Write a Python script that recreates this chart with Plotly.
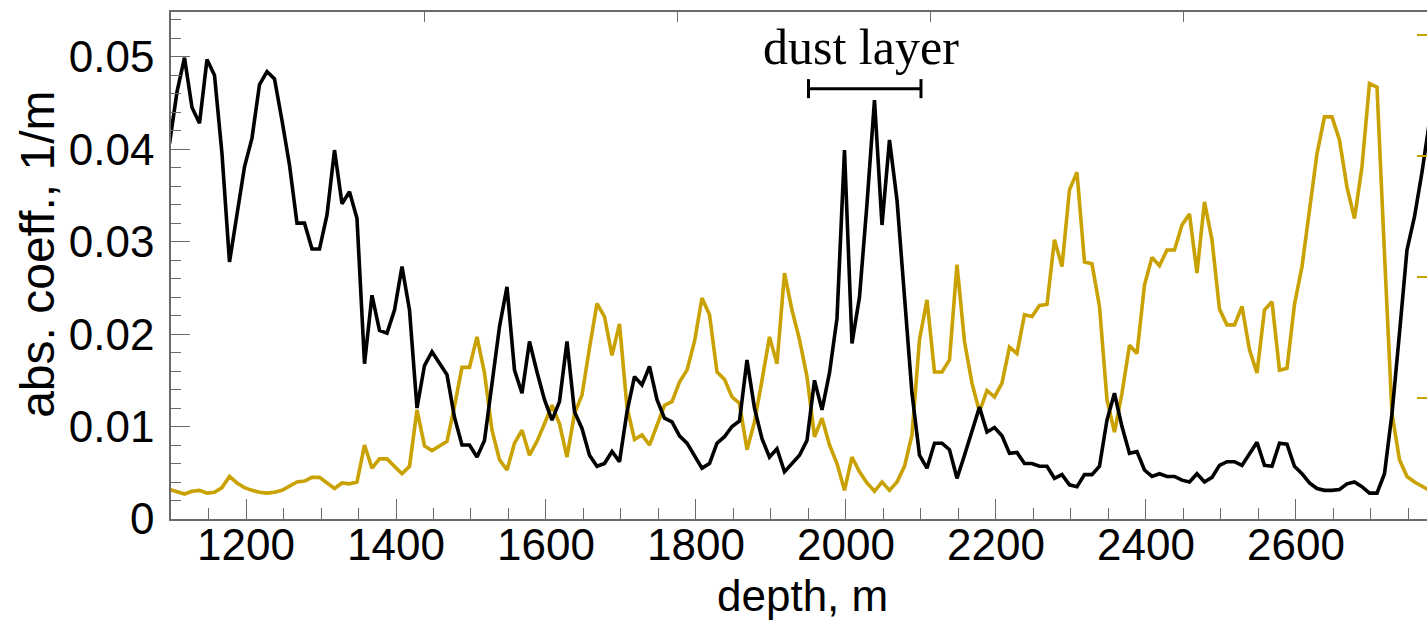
import plotly.graph_objects as go

# sampling grid of the profiles (m)
depth = list(range(1098, 2779, 10))

# black curve: absorption coefficient (1/m)
black_coeff = [
    0.0406,
    0.0462, 0.0499, 0.0445, 0.0428, 0.0497, 0.0480, 0.0395, 0.0278, 0.0330, 0.0381,
    0.0412, 0.0470, 0.0484, 0.0476, 0.0431, 0.0383, 0.0320, 0.0320, 0.0292, 0.0292,
    0.0329, 0.0399, 0.0341, 0.0354, 0.0325, 0.0168, 0.0242, 0.0204, 0.0201, 0.0226,
    0.0273, 0.0226, 0.0120, 0.0166, 0.0181, 0.0168, 0.0156, 0.0110, 0.0080, 0.0080,
    0.0067, 0.0085, 0.0143, 0.0208, 0.0251, 0.0161, 0.0136, 0.0192, 0.0159, 0.0129,
    0.0107, 0.0127, 0.0192, 0.0116, 0.0098, 0.0069, 0.0057, 0.0060, 0.0073, 0.0062,
    0.0116, 0.0154, 0.0145, 0.0165, 0.0129, 0.0109, 0.0105, 0.0090, 0.0082, 0.0068,
    0.0055, 0.0060, 0.0082, 0.0089, 0.0100, 0.0106, 0.0172, 0.0120, 0.0087, 0.0067,
    0.0076, 0.0051, 0.0060, 0.0069, 0.0085, 0.0150, 0.0118, 0.0158, 0.0217, 0.0399,
    0.0190, 0.0240, 0.0341, 0.0453, 0.0318, 0.0410, 0.0345, 0.0237, 0.0136, 0.0069,
    0.0055, 0.0082, 0.0082, 0.0075, 0.0044, 0.0069, 0.0094, 0.0121, 0.0094, 0.0099,
    0.0090, 0.0071, 0.0072, 0.0060, 0.0060, 0.0057, 0.0057, 0.0044, 0.0048, 0.0037,
    0.0035, 0.0048, 0.0048, 0.0057, 0.0107, 0.0136, 0.0100, 0.0071, 0.0073, 0.0053,
    0.0046, 0.0049, 0.0046, 0.0046, 0.0042, 0.0040, 0.0049, 0.0040, 0.0045, 0.0058,
    0.0062, 0.0062, 0.0058, 0.0071, 0.0083, 0.0058, 0.0057, 0.0082, 0.0081, 0.0057,
    0.0049, 0.0039, 0.0033, 0.0031, 0.0031, 0.0032, 0.0038, 0.0040, 0.0035, 0.0028,
    0.0028, 0.0049, 0.0114, 0.0201, 0.0291, 0.0327, 0.0375, 0.0430,
]

# gold curve
gold_coeff = [
    0.0032,
    0.0029, 0.0027, 0.0030, 0.0031, 0.0028, 0.0029, 0.0034, 0.0046, 0.0039, 0.0034,
    0.0031, 0.0029, 0.0028, 0.0029, 0.0031, 0.0035, 0.0040, 0.0041, 0.0045, 0.0045,
    0.0039, 0.0033, 0.0039, 0.0038, 0.0040, 0.0080, 0.0055, 0.0065, 0.0065, 0.0057,
    0.0049, 0.0057, 0.0118, 0.0079, 0.0074, 0.0079, 0.0084, 0.0122, 0.0164, 0.0164,
    0.0197, 0.0158, 0.0096, 0.0064, 0.0053, 0.0082, 0.0096, 0.0069, 0.0084, 0.0103,
    0.0123, 0.0103, 0.0067, 0.0114, 0.0134, 0.0185, 0.0233, 0.0219, 0.0177, 0.0211,
    0.0121, 0.0086, 0.0091, 0.0080, 0.0102, 0.0123, 0.0127, 0.0148, 0.0161, 0.0192,
    0.0239, 0.0221, 0.0159, 0.0151, 0.0132, 0.0125, 0.0075, 0.0105, 0.0150, 0.0197,
    0.0168, 0.0266, 0.0226, 0.0194, 0.0154, 0.0089, 0.0109, 0.0080, 0.0060, 0.0031,
    0.0067, 0.0051, 0.0039, 0.0030, 0.0040, 0.0031, 0.0040, 0.0057, 0.0091, 0.0194,
    0.0237, 0.0159, 0.0159, 0.0172, 0.0275, 0.0192, 0.0147, 0.0116, 0.0139, 0.0132,
    0.0147, 0.0186, 0.0179, 0.0221, 0.0219, 0.0231, 0.0232, 0.0302, 0.0273, 0.0356,
    0.0375, 0.0278, 0.0276, 0.0230, 0.0129, 0.0094, 0.0136, 0.0188, 0.0179, 0.0253,
    0.0283, 0.0274, 0.0291, 0.0291, 0.0318, 0.0330, 0.0266, 0.0343, 0.0302, 0.0227,
    0.0210, 0.0210, 0.0230, 0.0183, 0.0158, 0.0226, 0.0235, 0.0161, 0.0163, 0.0232,
    0.0273, 0.0334, 0.0395, 0.0435, 0.0435, 0.0410, 0.0359, 0.0325, 0.0381, 0.0471,
    0.0467, 0.0287, 0.0114, 0.0064, 0.0046, 0.0040, 0.0035, 0.0031,
]

# dust layer marker
dust_label = "dust layer"
dust_start = 1950
dust_end = 2100
dust_level = 0.04655
dust_cap = 0.00103
dust_label_y = 0.05105

x_title = "depth, m"
y_title = "abs. coeff., 1/m"

x_range = [1100, 2774.7]
y_range = [0, 0.05484]

BLACK = "#000000"
GOLD = "#C9A100"
AXIS = "#6a6a6a"
SANS = "Liberation Sans, Arial, sans-serif"
SERIF = "Liberation Serif, Times New Roman, serif"

fig = go.Figure()
fig.add_trace(go.Scatter(x=depth, y=gold_coeff, mode="lines",
                         line=dict(color=GOLD, width=3.6), showlegend=False))
fig.add_trace(go.Scatter(x=depth, y=black_coeff, mode="lines",
                         line=dict(color=BLACK, width=3.6), showlegend=False))
# empty trace to carry the secondary (top / right) axes
fig.add_trace(go.Scatter(x=[], y=[], xaxis="x2", yaxis="y2", showlegend=False))

# bracket
fig.add_shape(type="line", x0=dust_start, x1=dust_end, y0=dust_level, y1=dust_level,
              line=dict(color=BLACK, width=3))
for xe in (dust_start, dust_end):
    fig.add_shape(type="line", x0=xe, x1=xe, y0=dust_level - dust_cap, y1=dust_level + dust_cap,
                  line=dict(color=BLACK, width=3))
fig.add_annotation(x=(dust_start + dust_end) / 2 - 5, y=dust_label_y, text=dust_label,
                   showarrow=False, xanchor="center", yanchor="middle",
                   font=dict(family=SERIF, size=50, color=BLACK))

# axis titles as paper annotations
fig.add_annotation(xref="paper", yref="paper", x=0.5024, y=-0.150, text=x_title,
                   showarrow=False, xanchor="center", yanchor="middle",
                   font=dict(family=SANS, size=44, color=BLACK))
fig.add_annotation(xref="paper", yref="paper", x=-0.1063, y=0.522, text=y_title,
                   textangle=-90, showarrow=False, xanchor="center", yanchor="middle",
                   font=dict(family=SANS, size=48, color=BLACK))

fig.update_layout(
    width=1427, height=622,
    margin=dict(l=171, r=0, t=12, b=103, pad=0, autoexpand=False),
    plot_bgcolor="white", paper_bgcolor="white",
    showlegend=False,
    xaxis=dict(
        range=x_range, tick0=0, dtick=200, automargin=False,
        ticks="inside", ticklen=20, tickwidth=1.3, tickcolor=AXIS,
        minor=dict(dtick=50, ticks="inside", ticklen=11, tickwidth=1.3, tickcolor=AXIS),
        showline=True, linecolor=AXIS, linewidth=1.6, mirror=True,
        showgrid=False, zeroline=False,
        tickfont=dict(family=SANS, size=44, color=BLACK),
        ticklabelstandoff=-14,
    ),
    yaxis=dict(
        range=y_range, tick0=0, dtick=0.01, automargin=False,
        ticks="inside", ticklen=19, tickwidth=1.3, tickcolor=AXIS,
        minor=dict(dtick=0.002, ticks="inside", ticklen=10, tickwidth=1.3, tickcolor=AXIS),
        showline=True, linecolor=AXIS, linewidth=1.6, mirror=False,
        showgrid=False, zeroline=False,
        tickfont=dict(family=SANS, size=44, color=BLACK),
        ticklabelstandoff=6,
    ),
    xaxis2=dict(
        overlaying="x", anchor="y", side="top", automargin=False,
        range=[0, 4.964], dtick=1, ticks="inside", ticklen=10, tickwidth=1.3,
        tickcolor=AXIS, showticklabels=False, showgrid=False, zeroline=False, showline=False,
    ),
    yaxis2=dict(
        overlaying="y", anchor="x", side="right", automargin=False,
        range=[0, 4.193], dtick=1, ticks="inside", ticklen=10, tickwidth=1.6,
        tickcolor=GOLD, showticklabels=False, showgrid=False, zeroline=False, showline=False,
    ),
)

fig.write_html("out.html", config={"displayModeBar": False},
               post_script="document.body.style.margin='0';document.body.style.overflow='hidden';")
